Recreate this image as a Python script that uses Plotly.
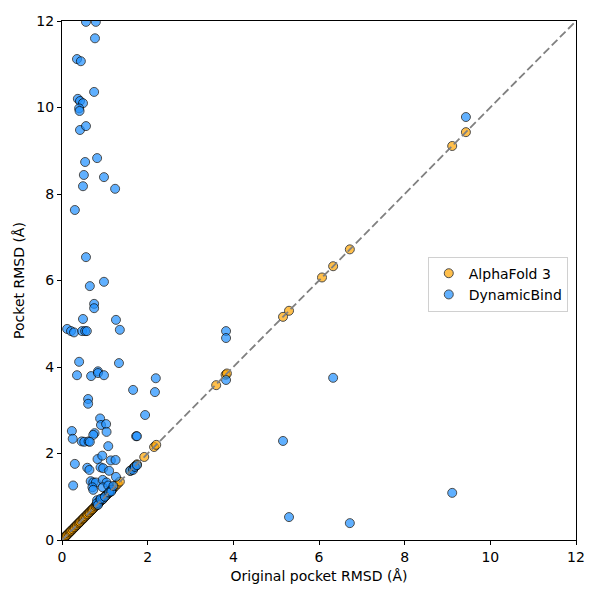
import plotly.graph_objects as go

# AlphaFold 3: pocket RMSD barely changes, so points sit on the diagonal
af3_x = [0.05, 0.08, 0.10, 0.12, 0.15, 0.18, 0.20, 0.22, 0.25, 0.28, 0.30, 0.33,
         0.35, 0.38, 0.40, 0.42, 0.45, 0.48, 0.50, 0.52, 0.55, 0.58, 0.60, 0.63,
         0.65, 0.68, 0.70, 0.72, 0.75, 0.78, 0.80, 0.82, 0.85, 0.88, 0.90, 0.92,
         0.95, 0.98, 1.00, 1.03, 1.05, 1.08, 1.10, 1.13, 1.16, 1.20, 1.25, 1.30,
         1.35, 1.60, 1.66, 1.70, 1.75, 1.92, 2.15, 2.20, 3.60, 3.82, 3.85, 5.16,
         5.30, 6.07, 6.33, 6.72, 9.11, 9.43]
af3_y = [0.05, 0.08, 0.10, 0.12, 0.15, 0.18, 0.20, 0.22, 0.25, 0.28, 0.30, 0.33,
         0.35, 0.38, 0.40, 0.42, 0.45, 0.48, 0.50, 0.52, 0.55, 0.58, 0.60, 0.63,
         0.65, 0.68, 0.70, 0.72, 0.75, 0.78, 0.80, 0.82, 0.85, 0.88, 0.90, 0.92,
         0.95, 0.98, 1.00, 1.03, 1.05, 1.08, 1.10, 1.13, 1.16, 1.20, 1.25, 1.30,
         1.35, 1.60, 1.66, 1.70, 1.75, 1.92, 2.15, 2.20, 3.58, 3.82, 3.85, 5.16,
         5.30, 6.07, 6.33, 6.72, 9.11, 9.43]

# DynamicBind predictions
db_x = [0.56, 0.79, 0.77, 0.35, 0.44, 0.75, 0.37, 0.42, 0.49, 0.40, 0.41,
        0.42, 0.56, 0.82, 0.54, 0.51, 0.98, 0.49, 1.24, 0.30, 0.56, 0.65, 0.98,
        0.75, 0.75, 0.49, 1.26, 0.12, 0.21, 0.28, 0.47, 0.54, 0.58, 1.35,
        0.40, 1.33, 0.35, 0.68, 0.84, 0.84, 0.98, 1.66, 2.19, 0.61, 0.61,
        1.94, 2.17, 1.73, 1.75, 0.89, 0.91, 1.03, 1.04, 0.76, 0.73, 0.23, 0.25,
        0.46, 0.52, 0.62, 0.65, 1.08, 0.30, 0.83, 0.94, 1.14, 1.25, 0.59, 0.64,
        0.90, 0.96, 1.10, 1.26, 0.26, 0.67, 0.73, 0.79, 0.95, 1.04, 0.71, 0.73,
        0.95, 1.08, 1.16, 0.82, 0.89, 0.95, 0.81, 0.84, 0.90, 1.00, 1.10, 1.15,
        1.20, 1.59, 1.66, 1.70, 1.75, 3.83, 3.83, 3.83, 6.33, 5.16, 5.30, 6.72,
        9.11, 9.43]
db_y = [11.98, 11.98, 11.60, 11.12, 11.07, 10.36, 10.20, 10.15, 10.10, 9.98, 9.92,
        9.48, 9.57, 8.83, 8.74, 8.44, 8.39, 8.18, 8.12, 7.63, 6.54, 5.87, 5.97,
        5.46, 5.36, 5.11, 5.09, 4.88, 4.83, 4.80, 4.83, 4.83, 4.83, 4.86,
        4.12, 4.09, 3.81, 3.79, 3.90, 3.86, 3.81, 3.47, 3.74, 3.26, 3.15,
        2.89, 3.42, 2.40, 2.40, 2.81, 2.66, 2.68, 2.50, 2.47, 2.43, 2.52, 2.34,
        2.28, 2.27, 2.28, 2.27, 2.17, 1.76, 1.87, 1.95, 1.84, 1.85, 1.67, 1.62,
        1.68, 1.66, 1.60, 1.46, 1.26, 1.36, 1.33, 1.33, 1.39, 1.33, 1.22, 1.16,
        1.22, 1.26, 1.16, 0.92, 0.92, 0.94, 0.85, 0.81, 0.95, 1.00, 1.10, 1.12,
        1.25, 1.60, 1.62, 1.69, 1.73, 4.83, 4.67, 3.70, 3.75, 2.29, 0.53, 0.39,
        1.09, 9.78]

font = dict(family="DejaVu Sans", size=14, color="black")

fig = go.Figure()
fig.add_trace(go.Scatter(
    x=af3_x, y=af3_y, mode="markers", name="AlphaFold 3",
    marker=dict(size=9, color="orange", opacity=0.7,
                line=dict(color="black", width=1)),
))
fig.add_trace(go.Scatter(
    x=db_x, y=db_y, mode="markers", name="DynamicBind",
    marker=dict(size=9, color="#1E90FF", opacity=0.7,
                line=dict(color="black", width=1)),
))
fig.add_trace(go.Scatter(
    x=[0, 12], y=[0, 12], mode="lines", showlegend=False, hoverinfo="skip",
    line=dict(color="gray", width=1.8, dash="8px,3.6px"),
))

axis = dict(range=[0, 12], tickvals=[0, 2, 4, 6, 8, 10, 12], showgrid=False,
            zeroline=False, showline=True, linecolor="black", linewidth=1,
            mirror=True, ticks="outside", ticklen=4, tickcolor="black",
            tickfont=font, automargin=False)

fig.update_layout(
    width=600, height=600,
    margin=dict(l=54, r=32, t=13, b=68),
    plot_bgcolor="white", paper_bgcolor="white",
    font=font,
    xaxis=dict(axis, title=dict(text="Original pocket RMSD (Å)", font=font, standoff=7)),
    yaxis=dict(axis, title=dict(text="Pocket RMSD (Å)", font=font, standoff=8)),
    legend=dict(x=0.984, y=0.546, xanchor="right", yanchor="top",
                bordercolor="#d0d0d0", borderwidth=1, bgcolor="white",
                font=dict(family="DejaVu Sans", size=14)),
)

fig.write_html("out.html")
